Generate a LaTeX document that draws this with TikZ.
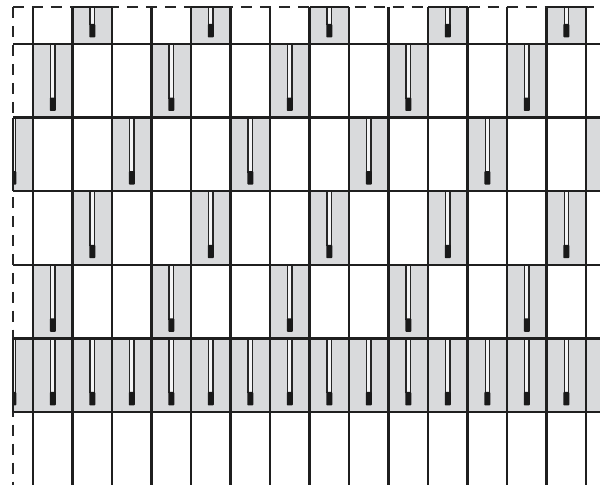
\documentclass[tikz,border=0pt]{standalone}
\usetikzlibrary{calc}
\definecolor{cellgray}{RGB}{217,218,220}
% one grey cell with its thermometer (column, row)
\newcommand{\thermocell}[2]{%
	\fill[cell] ({33+39.5*(#1)},{-29.6+73.6*(#2)}) rectangle ++(39.5,73.6);
	\fill[white!70!cellgray] ({33+39.5*(#1)+17.7},{-29.6+73.6*(#2)}) rectangle ++(4.2,55);
	\draw[tube] ({33+39.5*(#1)+17.7},{-29.6+73.6*(#2)})--++(0,55)
		({33+39.5*(#1)+21.9},{-29.6+73.6*(#2)})--++(0,55);
	\fill[bulb] ({33+39.5*(#1)+16.8},{-29.6+73.6*(#2)+53.6}) rectangle ++(6,13.4);
}
\begin{document}
\begin{tikzpicture}[x=0.025cm,y=-0.025cm,line join=round,
	grid/.style={line width=1.6pt,black!88},
	rim/.style={line width=1.2pt,black!85,dash pattern=on 8pt off 5.5pt},
	cell/.style={fill=cellgray},
	tube/.style={draw=black!85,line width=1pt},
	bulb/.style={fill=black!90,rounded corners=0.6pt}]
	\useasboundingbox (0,0) rectangle (600,485);
	% cut lines of the pattern
	\coordinate (A) at (13,7);
	\coordinate (B) at (600,7);
	\coordinate (D) at (13,485);
	\begin{scope}
		\clip (A) rectangle (600,485);
		\foreach \j in {0,...,4}
		\foreach \c in {-1,...,14}{
			\pgfmathtruncatemacro{\k}{mod(\c+\j+3,3)}
			\ifnum\k=1 \thermocell{\c}{\j}\fi
		}
		\foreach \c in {-1,...,14} {\thermocell{\c}{5}}
	\end{scope}
	% grid
	\foreach \c in {0,...,14}
		\draw[grid] ({33+39.5*\c},7)--({33+39.5*\c},485);
	\foreach \j in {1,...,6}
		\draw[grid] (13,{-29.6+73.6*\j})--(600,{-29.6+73.6*\j});
	\draw[rim] (A)--(B) (A)--(D);
	% solid edges of the cut grey cells
	\foreach \c in {1,4,7,10,13}
		\draw[grid] ({33+39.5*\c},7)--({72.5+39.5*\c},7);
	\foreach \j in {2,5}
		\draw[grid] (13,{-29.6+73.6*\j})--(13,{44+73.6*\j});
\end{tikzpicture}
\end{document}
